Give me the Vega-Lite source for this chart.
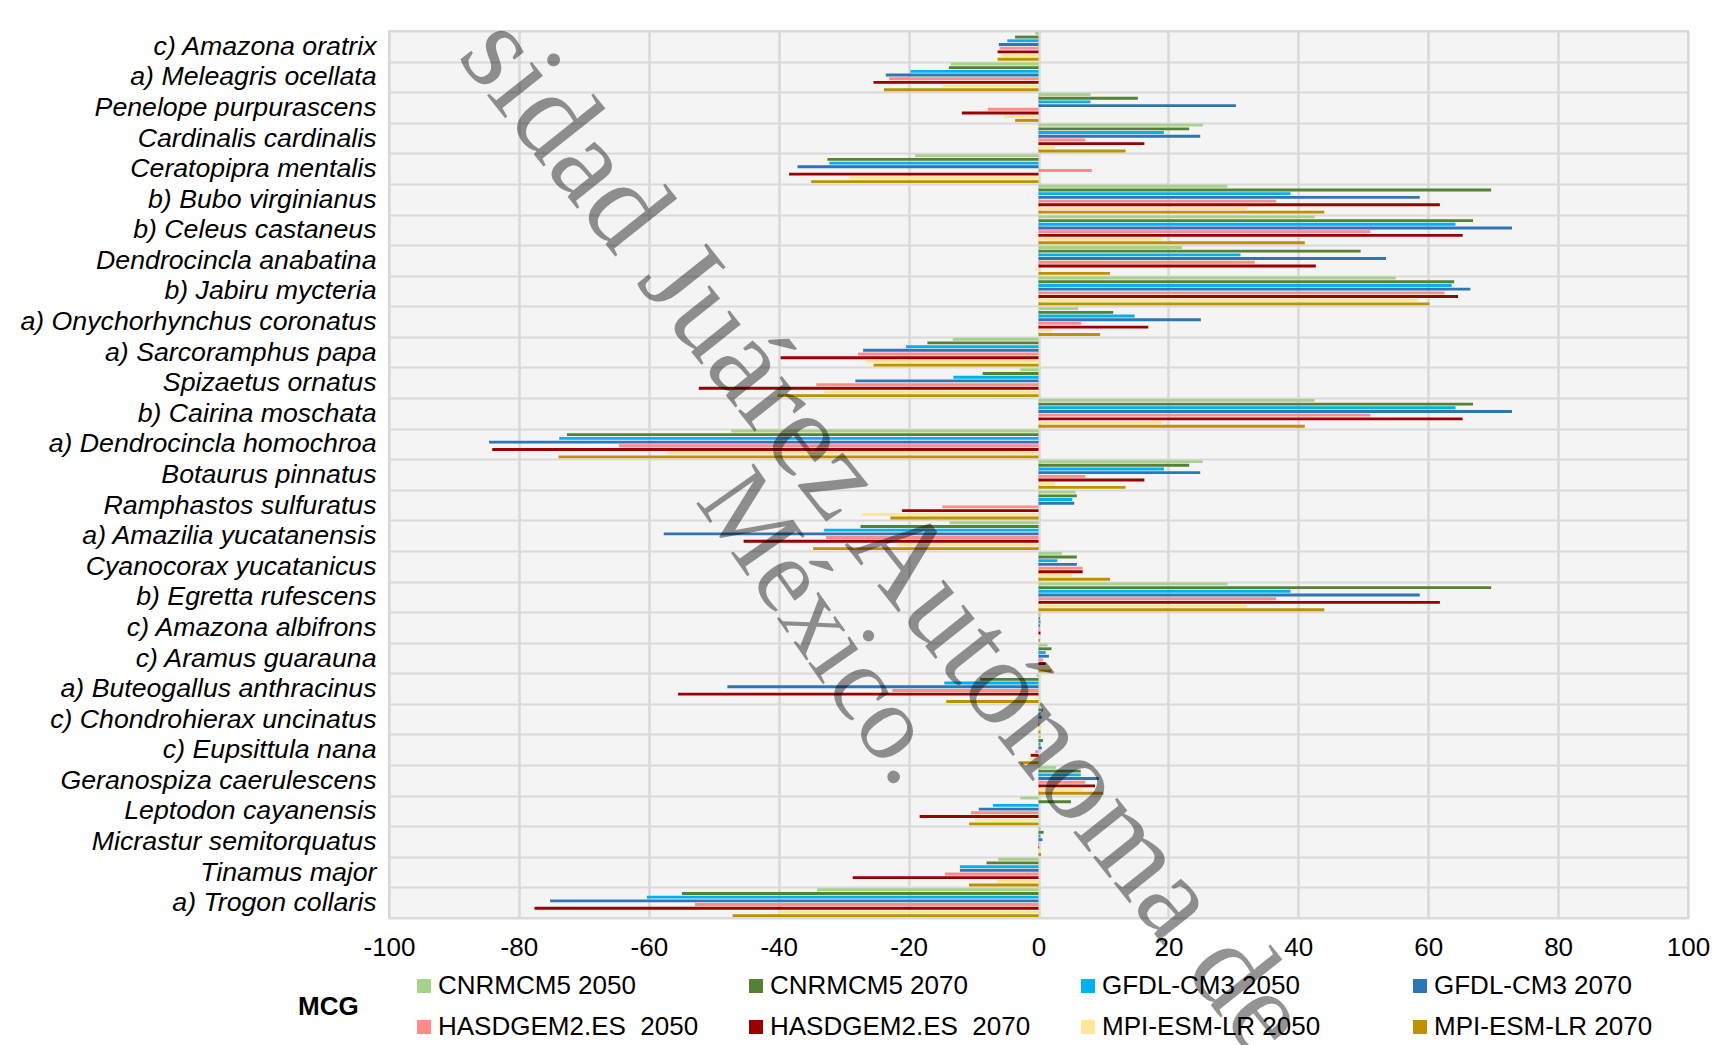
{
"$schema": "https://vega.github.io/schema/vega-lite/v6.json",
"width": 1299, "height": 887,
"autosize": "none",
"padding": {"left": 389, "top": 31, "right": 29, "bottom": 127},
"background": "white",
"config": {"view": {"fill": "#f4f4f4", "stroke": "#d9d9d9", "strokeWidth": 2}, "font": "Liberation Sans"},
"layer": [
{
"data": {"values": [
{"s":"c) Amazona oratrix","m":"CNRMCM5 2050","v":-0.5},{"s":"c) Amazona oratrix","m":"CNRMCM5 2070","v":-3.6},{"s":"c) Amazona oratrix","m":"GFDL-CM3 2050","v":-4.8},{"s":"c) Amazona oratrix","m":"GFDL-CM3 2070","v":-6.1},{"s":"c) Amazona oratrix","m":"HASDGEM2.ES\u00a0 2050","v":-6.0},{"s":"c) Amazona oratrix","m":"HASDGEM2.ES\u00a0 2070","v":-6.3},{"s":"c) Amazona oratrix","m":"MPI-ESM-LR 2050","v":-5.7},{"s":"c) Amazona oratrix","m":"MPI-ESM-LR 2070","v":-6.3},
{"s":"a) Meleagris ocellata","m":"CNRMCM5 2050","v":-13.5},{"s":"a) Meleagris ocellata","m":"CNRMCM5 2070","v":-13.8},{"s":"a) Meleagris ocellata","m":"GFDL-CM3 2050","v":-19.7},{"s":"a) Meleagris ocellata","m":"GFDL-CM3 2070","v":-23.5},{"s":"a) Meleagris ocellata","m":"HASDGEM2.ES\u00a0 2050","v":-23.0},{"s":"a) Meleagris ocellata","m":"HASDGEM2.ES\u00a0 2070","v":-25.4},{"s":"a) Meleagris ocellata","m":"MPI-ESM-LR 2050","v":-14.8},{"s":"a) Meleagris ocellata","m":"MPI-ESM-LR 2070","v":-23.8},
{"s":"Penelope purpurascens","m":"CNRMCM5 2050","v":8.0},{"s":"Penelope purpurascens","m":"CNRMCM5 2070","v":15.3},{"s":"Penelope purpurascens","m":"GFDL-CM3 2050","v":8.0},{"s":"Penelope purpurascens","m":"GFDL-CM3 2070","v":30.4},{"s":"Penelope purpurascens","m":"HASDGEM2.ES\u00a0 2050","v":-7.8},{"s":"Penelope purpurascens","m":"HASDGEM2.ES\u00a0 2070","v":-11.8},{"s":"Penelope purpurascens","m":"MPI-ESM-LR 2050","v":-5.3},{"s":"Penelope purpurascens","m":"MPI-ESM-LR 2070","v":-3.6},
{"s":"Cardinalis cardinalis","m":"CNRMCM5 2050","v":25.3},{"s":"Cardinalis cardinalis","m":"CNRMCM5 2070","v":23.2},{"s":"Cardinalis cardinalis","m":"GFDL-CM3 2050","v":19.3},{"s":"Cardinalis cardinalis","m":"GFDL-CM3 2070","v":24.9},{"s":"Cardinalis cardinalis","m":"HASDGEM2.ES\u00a0 2050","v":7.2},{"s":"Cardinalis cardinalis","m":"HASDGEM2.ES\u00a0 2070","v":16.3},{"s":"Cardinalis cardinalis","m":"MPI-ESM-LR 2050","v":2.5},{"s":"Cardinalis cardinalis","m":"MPI-ESM-LR 2070","v":13.4},
{"s":"Ceratopipra mentalis","m":"CNRMCM5 2050","v":-19.0},{"s":"Ceratopipra mentalis","m":"CNRMCM5 2070","v":-32.5},{"s":"Ceratopipra mentalis","m":"GFDL-CM3 2050","v":-32.2},{"s":"Ceratopipra mentalis","m":"GFDL-CM3 2070","v":-37.1},{"s":"Ceratopipra mentalis","m":"HASDGEM2.ES\u00a0 2050","v":8.2},{"s":"Ceratopipra mentalis","m":"HASDGEM2.ES\u00a0 2070","v":-38.4},{"s":"Ceratopipra mentalis","m":"MPI-ESM-LR 2050","v":-29.1},{"s":"Ceratopipra mentalis","m":"MPI-ESM-LR 2070","v":-35.0},
{"s":"b) Bubo virginianus","m":"CNRMCM5 2050","v":29.1},{"s":"b) Bubo virginianus","m":"CNRMCM5 2070","v":69.7},{"s":"b) Bubo virginianus","m":"GFDL-CM3 2050","v":38.8},{"s":"b) Bubo virginianus","m":"GFDL-CM3 2070","v":58.7},{"s":"b) Bubo virginianus","m":"HASDGEM2.ES\u00a0 2050","v":36.6},{"s":"b) Bubo virginianus","m":"HASDGEM2.ES\u00a0 2070","v":61.8},{"s":"b) Bubo virginianus","m":"MPI-ESM-LR 2050","v":32.1},{"s":"b) Bubo virginianus","m":"MPI-ESM-LR 2070","v":44.0},
{"s":"b) Celeus castaneus","m":"CNRMCM5 2050","v":42.5},{"s":"b) Celeus castaneus","m":"CNRMCM5 2070","v":66.9},{"s":"b) Celeus castaneus","m":"GFDL-CM3 2050","v":64.2},{"s":"b) Celeus castaneus","m":"GFDL-CM3 2070","v":72.9},{"s":"b) Celeus castaneus","m":"HASDGEM2.ES\u00a0 2050","v":51.1},{"s":"b) Celeus castaneus","m":"HASDGEM2.ES\u00a0 2070","v":65.3},{"s":"b) Celeus castaneus","m":"MPI-ESM-LR 2050","v":19.1},{"s":"b) Celeus castaneus","m":"MPI-ESM-LR 2070","v":41.0},
{"s":"Dendrocincla anabatina","m":"CNRMCM5 2050","v":22.1},{"s":"Dendrocincla anabatina","m":"CNRMCM5 2070","v":49.6},{"s":"Dendrocincla anabatina","m":"GFDL-CM3 2050","v":31.1},{"s":"Dendrocincla anabatina","m":"GFDL-CM3 2070","v":53.5},{"s":"Dendrocincla anabatina","m":"HASDGEM2.ES\u00a0 2050","v":33.3},{"s":"Dendrocincla anabatina","m":"HASDGEM2.ES\u00a0 2070","v":42.7},{"s":"Dendrocincla anabatina","m":"MPI-ESM-LR 2050","v":-0.5},{"s":"Dendrocincla anabatina","m":"MPI-ESM-LR 2070","v":11.0},
{"s":"b) Jabiru mycteria","m":"CNRMCM5 2050","v":55.0},{"s":"b) Jabiru mycteria","m":"CNRMCM5 2070","v":64.0},{"s":"b) Jabiru mycteria","m":"GFDL-CM3 2050","v":63.6},{"s":"b) Jabiru mycteria","m":"GFDL-CM3 2070","v":66.5},{"s":"b) Jabiru mycteria","m":"HASDGEM2.ES\u00a0 2050","v":62.5},{"s":"b) Jabiru mycteria","m":"HASDGEM2.ES\u00a0 2070","v":64.6},{"s":"b) Jabiru mycteria","m":"MPI-ESM-LR 2050","v":58.4},{"s":"b) Jabiru mycteria","m":"MPI-ESM-LR 2070","v":60.2},
{"s":"a) Onychorhynchus coronatus","m":"CNRMCM5 2050","v":6.1},{"s":"a) Onychorhynchus coronatus","m":"CNRMCM5 2070","v":11.5},{"s":"a) Onychorhynchus coronatus","m":"GFDL-CM3 2050","v":14.8},{"s":"a) Onychorhynchus coronatus","m":"GFDL-CM3 2070","v":25.0},{"s":"a) Onychorhynchus coronatus","m":"HASDGEM2.ES\u00a0 2050","v":6.6},{"s":"a) Onychorhynchus coronatus","m":"HASDGEM2.ES\u00a0 2070","v":16.9},{"s":"a) Onychorhynchus coronatus","m":"MPI-ESM-LR 2050","v":2.1},{"s":"a) Onychorhynchus coronatus","m":"MPI-ESM-LR 2070","v":9.5},
{"s":"a) Sarcoramphus papa","m":"CNRMCM5 2050","v":-13.2},{"s":"a) Sarcoramphus papa","m":"CNRMCM5 2070","v":-17.1},{"s":"a) Sarcoramphus papa","m":"GFDL-CM3 2050","v":-20.4},{"s":"a) Sarcoramphus papa","m":"GFDL-CM3 2070","v":-27.0},{"s":"a) Sarcoramphus papa","m":"HASDGEM2.ES\u00a0 2050","v":-27.8},{"s":"a) Sarcoramphus papa","m":"HASDGEM2.ES\u00a0 2070","v":-39.7},{"s":"a) Sarcoramphus papa","m":"MPI-ESM-LR 2050","v":-26.5},{"s":"a) Sarcoramphus papa","m":"MPI-ESM-LR 2070","v":-25.4},
{"s":"Spizaetus ornatus","m":"CNRMCM5 2050","v":-2.8},{"s":"Spizaetus ornatus","m":"CNRMCM5 2070","v":-8.6},{"s":"Spizaetus ornatus","m":"GFDL-CM3 2050","v":-13.1},{"s":"Spizaetus ornatus","m":"GFDL-CM3 2070","v":-28.2},{"s":"Spizaetus ornatus","m":"HASDGEM2.ES\u00a0 2050","v":-34.2},{"s":"Spizaetus ornatus","m":"HASDGEM2.ES\u00a0 2070","v":-52.3},{"s":"Spizaetus ornatus","m":"MPI-ESM-LR 2050","v":-33.0},{"s":"Spizaetus ornatus","m":"MPI-ESM-LR 2070","v":-40.2},
{"s":"b) Cairina moschata","m":"CNRMCM5 2050","v":42.5},{"s":"b) Cairina moschata","m":"CNRMCM5 2070","v":66.9},{"s":"b) Cairina moschata","m":"GFDL-CM3 2050","v":64.2},{"s":"b) Cairina moschata","m":"GFDL-CM3 2070","v":72.9},{"s":"b) Cairina moschata","m":"HASDGEM2.ES\u00a0 2050","v":51.1},{"s":"b) Cairina moschata","m":"HASDGEM2.ES\u00a0 2070","v":65.3},{"s":"b) Cairina moschata","m":"MPI-ESM-LR 2050","v":19.1},{"s":"b) Cairina moschata","m":"MPI-ESM-LR 2070","v":41.0},
{"s":"a) Dendrocincla homochroa","m":"CNRMCM5 2050","v":-47.3},{"s":"a) Dendrocincla homochroa","m":"CNRMCM5 2070","v":-72.6},{"s":"a) Dendrocincla homochroa","m":"GFDL-CM3 2050","v":-73.8},{"s":"a) Dendrocincla homochroa","m":"GFDL-CM3 2070","v":-84.6},{"s":"a) Dendrocincla homochroa","m":"HASDGEM2.ES\u00a0 2050","v":-64.6},{"s":"a) Dendrocincla homochroa","m":"HASDGEM2.ES\u00a0 2070","v":-84.1},{"s":"a) Dendrocincla homochroa","m":"MPI-ESM-LR 2050","v":-57.1},{"s":"a) Dendrocincla homochroa","m":"MPI-ESM-LR 2070","v":-73.9},
{"s":"Botaurus pinnatus","m":"CNRMCM5 2050","v":25.3},{"s":"Botaurus pinnatus","m":"CNRMCM5 2070","v":23.2},{"s":"Botaurus pinnatus","m":"GFDL-CM3 2050","v":19.3},{"s":"Botaurus pinnatus","m":"GFDL-CM3 2070","v":24.9},{"s":"Botaurus pinnatus","m":"HASDGEM2.ES\u00a0 2050","v":7.2},{"s":"Botaurus pinnatus","m":"HASDGEM2.ES\u00a0 2070","v":16.3},{"s":"Botaurus pinnatus","m":"MPI-ESM-LR 2050","v":2.5},{"s":"Botaurus pinnatus","m":"MPI-ESM-LR 2070","v":13.4},
{"s":"Ramphastos sulfuratus","m":"CNRMCM5 2050","v":5.7},{"s":"Ramphastos sulfuratus","m":"CNRMCM5 2070","v":5.9},{"s":"Ramphastos sulfuratus","m":"GFDL-CM3 2050","v":5.2},{"s":"Ramphastos sulfuratus","m":"GFDL-CM3 2070","v":5.5},{"s":"Ramphastos sulfuratus","m":"HASDGEM2.ES\u00a0 2050","v":-14.8},{"s":"Ramphastos sulfuratus","m":"HASDGEM2.ES\u00a0 2070","v":-21.0},{"s":"Ramphastos sulfuratus","m":"MPI-ESM-LR 2050","v":-27.2},{"s":"Ramphastos sulfuratus","m":"MPI-ESM-LR 2070","v":-22.8},
{"s":"a) Amazilia yucatanensis","m":"CNRMCM5 2050","v":-13.7},{"s":"a) Amazilia yucatanensis","m":"CNRMCM5 2070","v":-27.4},{"s":"a) Amazilia yucatanensis","m":"GFDL-CM3 2050","v":-33.0},{"s":"a) Amazilia yucatanensis","m":"GFDL-CM3 2070","v":-57.7},{"s":"a) Amazilia yucatanensis","m":"HASDGEM2.ES\u00a0 2050","v":-32.7},{"s":"a) Amazilia yucatanensis","m":"HASDGEM2.ES\u00a0 2070","v":-45.4},{"s":"a) Amazilia yucatanensis","m":"MPI-ESM-LR 2050","v":-21.7},{"s":"a) Amazilia yucatanensis","m":"MPI-ESM-LR 2070","v":-34.7},
{"s":"Cyanocorax yucatanicus","m":"CNRMCM5 2050","v":3.6},{"s":"Cyanocorax yucatanicus","m":"CNRMCM5 2070","v":5.9},{"s":"Cyanocorax yucatanicus","m":"GFDL-CM3 2050","v":2.9},{"s":"Cyanocorax yucatanicus","m":"GFDL-CM3 2070","v":5.9},{"s":"Cyanocorax yucatanicus","m":"HASDGEM2.ES\u00a0 2050","v":6.8},{"s":"Cyanocorax yucatanicus","m":"HASDGEM2.ES\u00a0 2070","v":6.8},{"s":"Cyanocorax yucatanicus","m":"MPI-ESM-LR 2050","v":5.2},{"s":"Cyanocorax yucatanicus","m":"MPI-ESM-LR 2070","v":11.0},
{"s":"b) Egretta rufescens","m":"CNRMCM5 2050","v":29.1},{"s":"b) Egretta rufescens","m":"CNRMCM5 2070","v":69.7},{"s":"b) Egretta rufescens","m":"GFDL-CM3 2050","v":38.8},{"s":"b) Egretta rufescens","m":"GFDL-CM3 2070","v":58.7},{"s":"b) Egretta rufescens","m":"HASDGEM2.ES\u00a0 2050","v":36.6},{"s":"b) Egretta rufescens","m":"HASDGEM2.ES\u00a0 2070","v":61.8},{"s":"b) Egretta rufescens","m":"MPI-ESM-LR 2050","v":32.1},{"s":"b) Egretta rufescens","m":"MPI-ESM-LR 2070","v":44.0},
{"s":"c) Amazona albifrons","m":"CNRMCM5 2050","v":0.3},{"s":"c) Amazona albifrons","m":"CNRMCM5 2070","v":0.2},{"s":"c) Amazona albifrons","m":"GFDL-CM3 2050","v":0.3},{"s":"c) Amazona albifrons","m":"GFDL-CM3 2070","v":0.2},{"s":"c) Amazona albifrons","m":"HASDGEM2.ES\u00a0 2050","v":0.2},{"s":"c) Amazona albifrons","m":"HASDGEM2.ES\u00a0 2070","v":0.3},{"s":"c) Amazona albifrons","m":"MPI-ESM-LR 2050","v":0.2},{"s":"c) Amazona albifrons","m":"MPI-ESM-LR 2070","v":0.2},
{"s":"c) Aramus guarauna","m":"CNRMCM5 2050","v":1.4},{"s":"c) Aramus guarauna","m":"CNRMCM5 2070","v":2.0},{"s":"c) Aramus guarauna","m":"GFDL-CM3 2050","v":1.1},{"s":"c) Aramus guarauna","m":"GFDL-CM3 2070","v":1.6},{"s":"c) Aramus guarauna","m":"HASDGEM2.ES\u00a0 2050","v":0.7},{"s":"c) Aramus guarauna","m":"HASDGEM2.ES\u00a0 2070","v":1.1},{"s":"c) Aramus guarauna","m":"MPI-ESM-LR 2050","v":1.8},{"s":"c) Aramus guarauna","m":"MPI-ESM-LR 2070","v":2.0},
{"s":"a) Buteogallus anthracinus","m":"CNRMCM5 2050","v":-0.3},{"s":"a) Buteogallus anthracinus","m":"CNRMCM5 2070","v":-9.0},{"s":"a) Buteogallus anthracinus","m":"GFDL-CM3 2050","v":-14.5},{"s":"a) Buteogallus anthracinus","m":"GFDL-CM3 2070","v":-47.9},{"s":"a) Buteogallus anthracinus","m":"HASDGEM2.ES\u00a0 2050","v":-22.5},{"s":"a) Buteogallus anthracinus","m":"HASDGEM2.ES\u00a0 2070","v":-55.5},{"s":"a) Buteogallus anthracinus","m":"MPI-ESM-LR 2050","v":-0.5},{"s":"a) Buteogallus anthracinus","m":"MPI-ESM-LR 2070","v":-14.2},
{"s":"c) Chondrohierax uncinatus","m":"CNRMCM5 2050","v":0.2},{"s":"c) Chondrohierax uncinatus","m":"CNRMCM5 2070","v":0.7},{"s":"c) Chondrohierax uncinatus","m":"GFDL-CM3 2050","v":0.3},{"s":"c) Chondrohierax uncinatus","m":"GFDL-CM3 2070","v":0.5},{"s":"c) Chondrohierax uncinatus","m":"HASDGEM2.ES\u00a0 2050","v":0.1},{"s":"c) Chondrohierax uncinatus","m":"HASDGEM2.ES\u00a0 2070","v":0.1},{"s":"c) Chondrohierax uncinatus","m":"MPI-ESM-LR 2050","v":0.5},{"s":"c) Chondrohierax uncinatus","m":"MPI-ESM-LR 2070","v":0.3},
{"s":"c) Eupsittula nana","m":"CNRMCM5 2050","v":0.3},{"s":"c) Eupsittula nana","m":"CNRMCM5 2070","v":0.7},{"s":"c) Eupsittula nana","m":"GFDL-CM3 2050","v":0.3},{"s":"c) Eupsittula nana","m":"GFDL-CM3 2070","v":0.5},{"s":"c) Eupsittula nana","m":"HASDGEM2.ES\u00a0 2050","v":-0.5},{"s":"c) Eupsittula nana","m":"HASDGEM2.ES\u00a0 2070","v":-1.2},{"s":"c) Eupsittula nana","m":"MPI-ESM-LR 2050","v":-1.5},{"s":"c) Eupsittula nana","m":"MPI-ESM-LR 2070","v":-2.7},
{"s":"Geranospiza caerulescens","m":"CNRMCM5 2050","v":2.7},{"s":"Geranospiza caerulescens","m":"CNRMCM5 2070","v":6.5},{"s":"Geranospiza caerulescens","m":"GFDL-CM3 2050","v":6.5},{"s":"Geranospiza caerulescens","m":"GFDL-CM3 2070","v":9.3},{"s":"Geranospiza caerulescens","m":"HASDGEM2.ES\u00a0 2050","v":7.2},{"s":"Geranospiza caerulescens","m":"HASDGEM2.ES\u00a0 2070","v":8.7},{"s":"Geranospiza caerulescens","m":"MPI-ESM-LR 2050","v":6.8},{"s":"Geranospiza caerulescens","m":"MPI-ESM-LR 2070","v":10.0},
{"s":"Leptodon cayanensis","m":"CNRMCM5 2050","v":-2.8},{"s":"Leptodon cayanensis","m":"CNRMCM5 2070","v":5.0},{"s":"Leptodon cayanensis","m":"GFDL-CM3 2050","v":-7.0},{"s":"Leptodon cayanensis","m":"GFDL-CM3 2070","v":-9.2},{"s":"Leptodon cayanensis","m":"HASDGEM2.ES\u00a0 2050","v":-10.4},{"s":"Leptodon cayanensis","m":"HASDGEM2.ES\u00a0 2070","v":-18.3},{"s":"Leptodon cayanensis","m":"MPI-ESM-LR 2050","v":-9.8},{"s":"Leptodon cayanensis","m":"MPI-ESM-LR 2070","v":-10.7},
{"s":"Micrastur semitorquatus","m":"CNRMCM5 2050","v":0.3},{"s":"Micrastur semitorquatus","m":"CNRMCM5 2070","v":0.8},{"s":"Micrastur semitorquatus","m":"GFDL-CM3 2050","v":0.3},{"s":"Micrastur semitorquatus","m":"GFDL-CM3 2070","v":0.6},{"s":"Micrastur semitorquatus","m":"HASDGEM2.ES\u00a0 2050","v":0.1},{"s":"Micrastur semitorquatus","m":"HASDGEM2.ES\u00a0 2070","v":0.1},{"s":"Micrastur semitorquatus","m":"MPI-ESM-LR 2050","v":0.4},{"s":"Micrastur semitorquatus","m":"MPI-ESM-LR 2070","v":0.4},
{"s":"Tinamus major","m":"CNRMCM5 2050","v":-6.2},{"s":"Tinamus major","m":"CNRMCM5 2070","v":-8.0},{"s":"Tinamus major","m":"GFDL-CM3 2050","v":-12.1},{"s":"Tinamus major","m":"GFDL-CM3 2070","v":-12.1},{"s":"Tinamus major","m":"HASDGEM2.ES\u00a0 2050","v":-14.4},{"s":"Tinamus major","m":"HASDGEM2.ES\u00a0 2070","v":-28.6},{"s":"Tinamus major","m":"MPI-ESM-LR 2050","v":-6.4},{"s":"Tinamus major","m":"MPI-ESM-LR 2070","v":-10.7},
{"s":"a) Trogon collaris","m":"CNRMCM5 2050","v":-34.1},{"s":"a) Trogon collaris","m":"CNRMCM5 2070","v":-54.9},{"s":"a) Trogon collaris","m":"GFDL-CM3 2050","v":-60.3},{"s":"a) Trogon collaris","m":"GFDL-CM3 2070","v":-75.2},{"s":"a) Trogon collaris","m":"HASDGEM2.ES\u00a0 2050","v":-52.9},{"s":"a) Trogon collaris","m":"HASDGEM2.ES\u00a0 2070","v":-77.6},{"s":"a) Trogon collaris","m":"MPI-ESM-LR 2050","v":-40.0},{"s":"a) Trogon collaris","m":"MPI-ESM-LR 2070","v":-47.1}
]},
"mark": {"type": "bar", "orient": "horizontal"},
"encoding": {
"y": {"field": "s", "type": "nominal", "sort": null,
 "scale": {"paddingInner": 0, "paddingOuter": 0},
 "axis": {"title": null, "labelFont": "Liberation Sans", "labelFontStyle": "italic", "labelFontSize": 26.7, "labelColor": "black", "ticks": false, "tickSize": 0, "domain": false, "labelPadding": 13, "grid": true, "tickBand": "extent", "gridColor": "#d9d9d9", "gridWidth": 2, "labelLimit": 500, "labelOverlap": false}},
"yOffset": {"field": "m", "type": "nominal", "sort": ["CNRMCM5 2050","CNRMCM5 2070","GFDL-CM3 2050","GFDL-CM3 2070","HASDGEM2.ES\u00a0 2050","HASDGEM2.ES\u00a0 2070","MPI-ESM-LR 2050","MPI-ESM-LR 2070"],
 "scale": {"paddingInner": 0.22, "paddingOuter": 0.25}},
"x": {"field": "v", "type": "quantitative", "scale": {"domain": [-100, 100], "nice": false},
 "axis": {"title": null, "values": [-100,-80,-60,-40,-20,0,20,40,60,80,100], "labelExpr": "'' + datum.value", "labelFontSize": 26, "labelColor": "black", "ticks": false, "tickSize": 0, "domain": false, "labelPadding": 16, "grid": true, "gridColor": "#d9d9d9", "gridWidth": 2.5, "labelFlush": false, "labelOverlap": false}},
"color": {"field": "m", "type": "nominal",
 "scale": {"domain": ["CNRMCM5 2050","CNRMCM5 2070","GFDL-CM3 2050","GFDL-CM3 2070","HASDGEM2.ES\u00a0 2050","HASDGEM2.ES\u00a0 2070","MPI-ESM-LR 2050","MPI-ESM-LR 2070"],
  "range": ["#a9d18e","#548235","#00b0f0","#2e75b6","#ff8b8b","#990000","#ffe699","#bf9000"]},
 "legend": {"orient": "none", "legendX": -91, "legendY": 942, "direction": "horizontal", "columns": 4, "title": "MCG", "titleOrient": "left", "titleFontSize": 26, "titleFontWeight": "bold", "titleColor": "black", "titlePadding": 52, "titleAnchor": "middle", "titleBaseline": "middle", "labelFontSize": 26, "labelColor": "black", "symbolType": "square", "symbolSize": 196, "symbolStrokeWidth": 0, "labelOffset": 1, "columnPadding": 44, "rowPadding": 15, "gridAlign": "all", "labelLimit": 500, "padding": 0}}
}
},
{
"data": {"values": [{}]},
"mark": {"type": "text", "font": "Liberation Serif", "fontSize": 122, "angle": 51.5, "color": "#000000", "opacity": 0.42, "align": "center", "baseline": "middle"},
"encoding": {"x": {"datum": -23.7}, "y": {"datum": "a) Amazilia yucatanensis"}, "text": {"value": "sidad Juárez Autónoma de"}}
},
{
"data": {"values": [{}]},
"mark": {"type": "text", "font": "Liberation Serif", "fontSize": 107, "angle": 55, "color": "#000000", "opacity": 0.42, "align": "center", "baseline": "middle"},
"encoding": {"x": {"datum": -33.3}, "y": {"datum": "c) Amazona albifrons"}, "text": {"value": "México."}}
}
]
}
